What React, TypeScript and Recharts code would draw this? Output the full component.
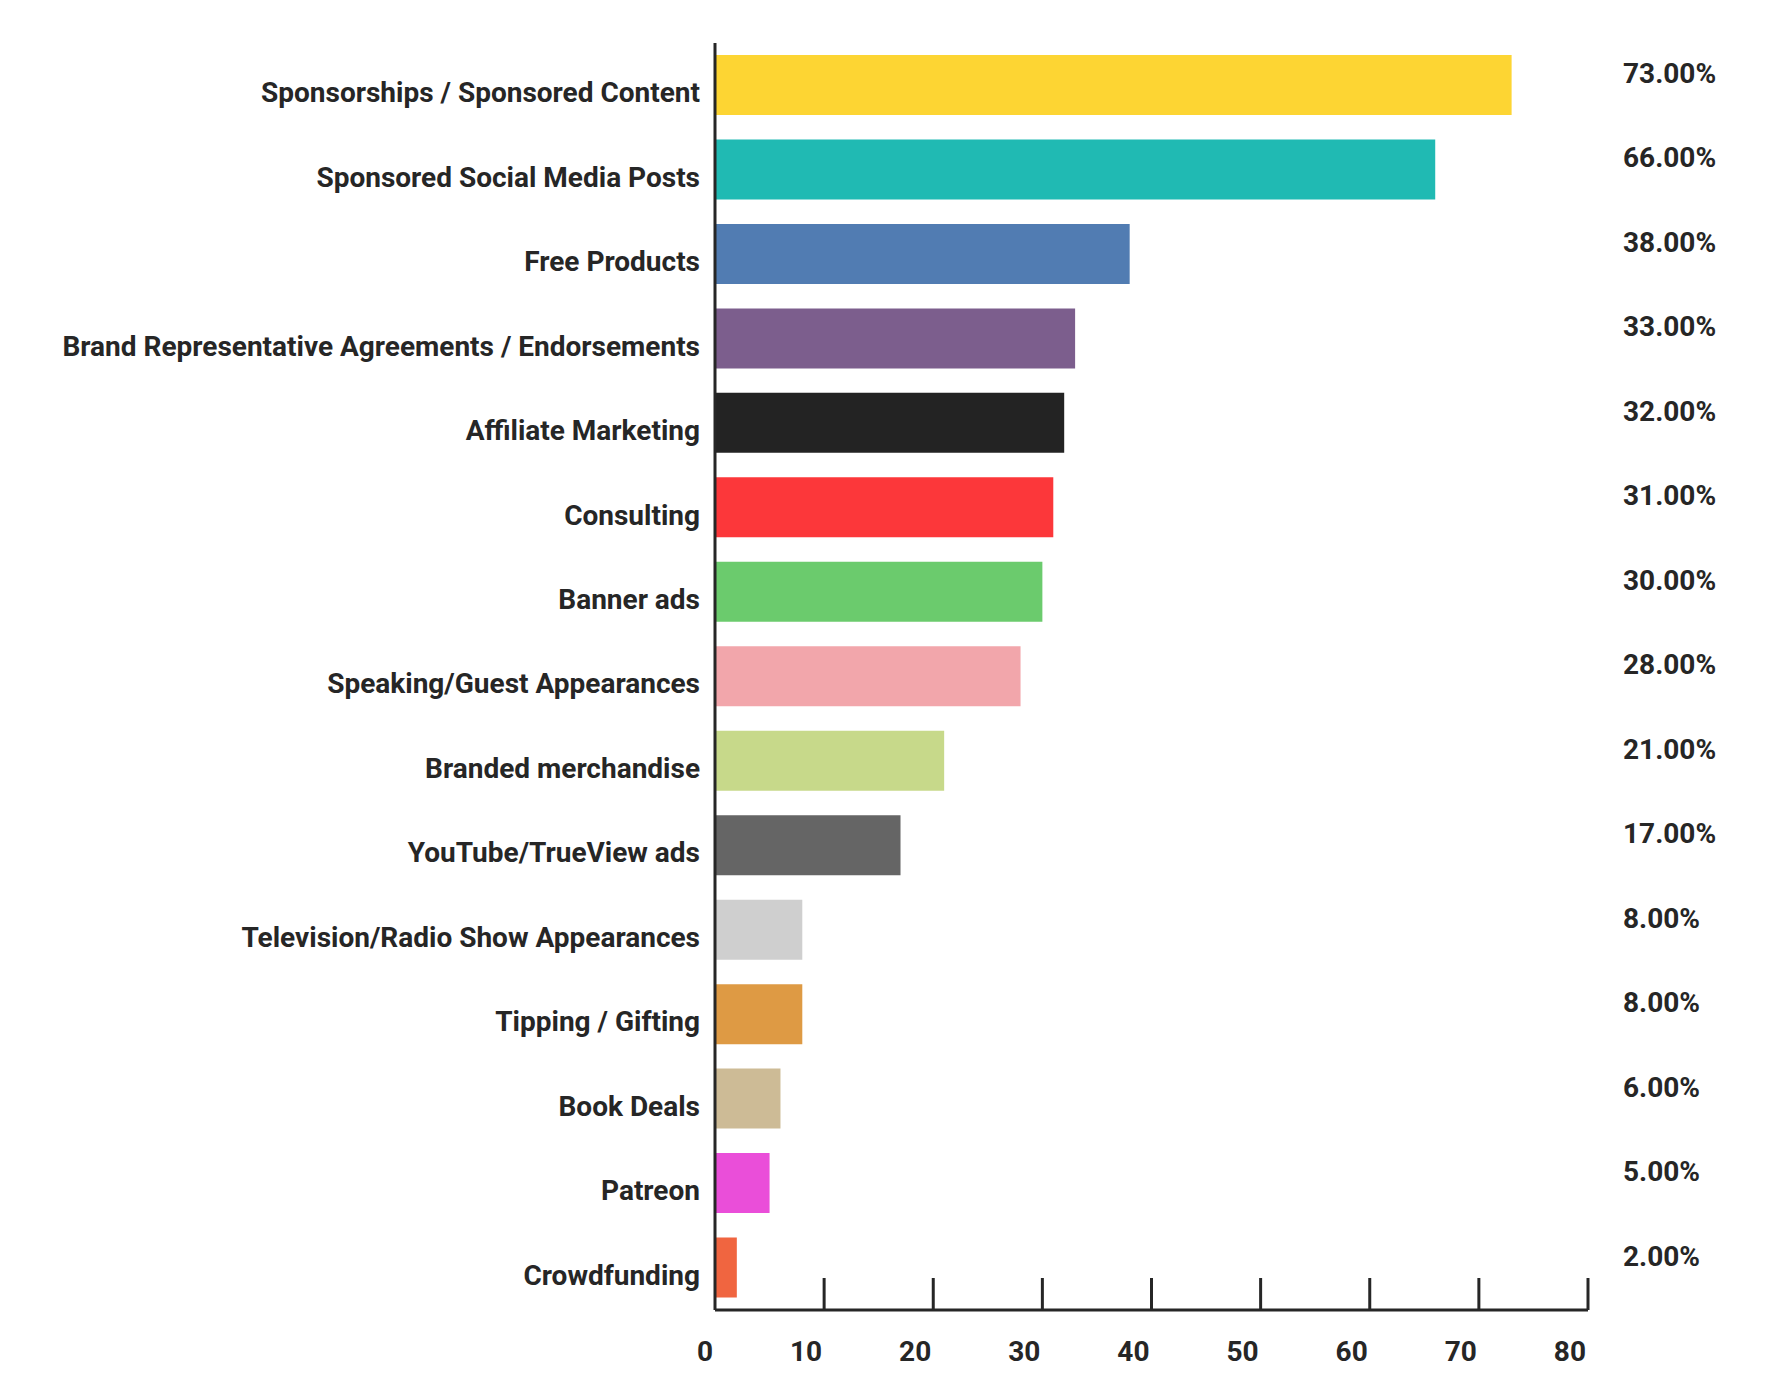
import { Bar, BarChart, Cell, LabelList, XAxis, YAxis } from "recharts";

const categories = [
  "Sponsorships / Sponsored Content",
  "Sponsored Social Media Posts",
  "Free Products",
  "Brand Representative Agreements / Endorsements",
  "Affiliate Marketing",
  "Consulting",
  "Banner ads",
  "Speaking/Guest Appearances",
  "Branded merchandise",
  "YouTube/TrueView ads",
  "Television/Radio Show Appearances",
  "Tipping / Gifting",
  "Book Deals",
  "Patreon",
  "Crowdfunding",
];

const shares = [73, 66, 38, 33, 32, 31, 30, 28, 21, 17, 8, 8, 6, 5, 2];

const barColors = [
  "#fdd533",
  "#20bab3",
  "#517cb2",
  "#7c5e8d",
  "#232323",
  "#fc373a",
  "#6bcb6d",
  "#f2a6ab",
  "#c7d98a",
  "#656565",
  "#cfcfcf",
  "#de9a44",
  "#cdbb96",
  "#ea4ed9",
  "#f06540",
];

const xTicks = [0, 10, 20, 30, 40, 50, 60, 70, 80];

const data = categories.map((name, i) => ({ name, share: shares[i] }));

const INK = "#262626";
const FONT = "Roboto, 'Noto Sans', sans-serif";

function XTick(props: any): React.JSX.Element {
  const { x, y, payload } = props;
  return (
    <g>
      {payload.value !== 0 && (
        <line x1={x} y1={y} x2={x} y2={y - 32} stroke={INK} strokeWidth={3} />
      )}
      <text
        x={x - 2}
        y={y + 51}
        textAnchor="end"
        fontSize={28}
        fontWeight={700}
        fontFamily={FONT}
        fill={INK}
      >
        {payload.value}
      </text>
    </g>
  );
}

function ShareLabel(props: any): React.JSX.Element {
  const { x, y, height, value } = props;
  // percentages sit in a column to the right of the plot, a little above bar centre
  return (
    <text
      x={x + 908}
      y={y + height / 2 - 2}
      fontSize={28}
      fontWeight={700}
      fontFamily={FONT}
      fill={INK}
    >
      {`${Number(value).toFixed(2)}%`}
    </text>
  );
}

export default function App(): React.JSX.Element {
  return (
    <div style={{ position: "absolute", left: 0, top: 0, background: "#fff" }}>
      <BarChart
        width={1788}
        height={1396}
        data={data}
        layout="vertical"
        margin={{ top: 43, right: 200, bottom: 0, left: 0 }}
        barCategoryGap={12}
      >
        <XAxis
          type="number"
          domain={[0, 80]}
          ticks={xTicks}
          interval={0}
          height={86}
          tickSize={0}
          tickMargin={0}
          tickLine={false}
          axisLine={{ stroke: INK, strokeWidth: 3 }}
          tick={<XTick />}
        />
        <YAxis
          type="category"
          dataKey="name"
          width={715}
          interval={0}
          tickSize={0}
          tickMargin={15}
          tickLine={false}
          axisLine={{ stroke: INK, strokeWidth: 3 }}
          tick={{ fontSize: 28, fontWeight: 700, fill: INK, fontFamily: FONT, dy: 7 }}
        />
        <Bar dataKey="share" barSize={60} isAnimationActive={false}>
          {data.map((d, i) => (
            <Cell key={d.name} fill={barColors[i]} />
          ))}
          <LabelList dataKey="share" content={<ShareLabel />} />
        </Bar>
      </BarChart>
    </div>
  );
}
